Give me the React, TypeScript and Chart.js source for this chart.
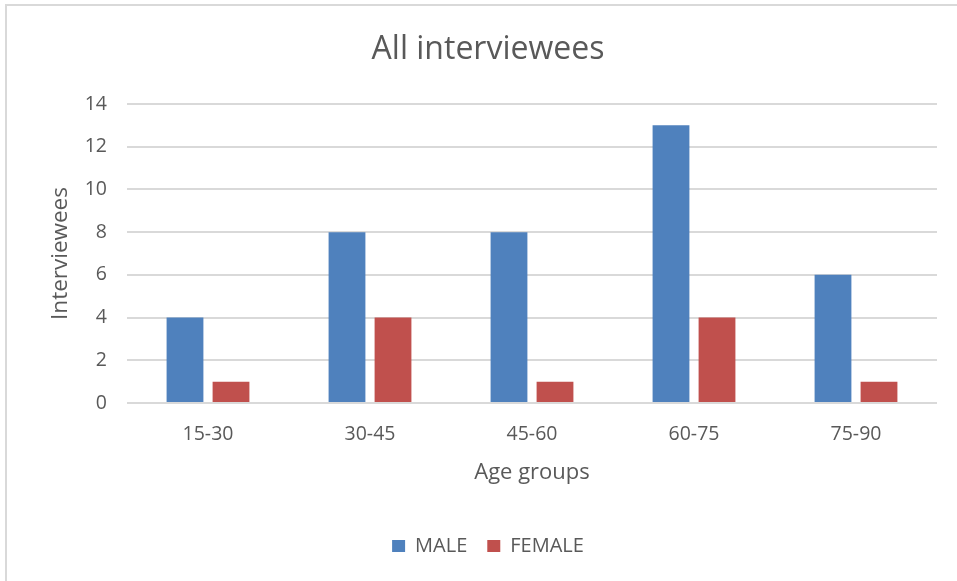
import React, { useEffect, useRef } from "react";
import { Chart, registerables } from "chart.js";

Chart.register(...registerables);

const categories = ["15-30", "30-45", "45-60", "60-75", "75-90"];
const maleValues = [4, 8, 8, 13, 6];
const femaleValues = [1, 4, 1, 4, 1];
const seriesNames = ["MALE", "FEMALE"];
const chartTitle = "All interviewees";
const xTitle = "Age groups";
const yTitle = "Interviewees";

const FONT = "'Open Sans', 'Noto Sans', sans-serif";
const TEXT = "#595959";

export default function App() {
  const ref = useRef<HTMLCanvasElement | null>(null);

  useEffect(() => {
    if (!ref.current) return;
    const chart = new Chart(ref.current, {
      type: "bar",
      data: {
        labels: categories,
        datasets: [
          {
            label: seriesNames[0],
            data: maleValues,
            backgroundColor: "#4f81bd",
            categoryPercentage: 0.568,
            barPercentage: 0.8,
          },
          {
            label: seriesNames[1],
            data: femaleValues,
            backgroundColor: "#c0504d",
            categoryPercentage: 0.568,
            barPercentage: 0.8,
          },
        ],
      },
      options: {
        animation: false,
        responsive: false,
        devicePixelRatio: 1,
        layout: { padding: { left: 39, right: 20, top: 0, bottom: 15 } },
        plugins: {
          title: {
            display: true,
            text: chartTitle,
            color: TEXT,
            font: { family: FONT, size: 32, weight: "normal" },
            padding: { top: 31, bottom: 34.6 },
          },
          legend: {
            display: true,
            position: "bottom",
            labels: {
              color: TEXT,
              font: { family: FONT, size: 20 },
              boxWidth: 13,
              boxHeight: 12,
              padding: 20,
            },
          },
          tooltip: { enabled: false },
        },
        scales: {
          x: {
            grid: { display: false, drawTicks: false },
            border: { display: false },
            ticks: {
              color: TEXT,
              font: { family: FONT, size: 19.5 },
              padding: 20,
              maxRotation: 0,
            },
            title: {
              display: true,
              text: xTitle,
              color: TEXT,
              font: { family: FONT, size: 22 },
              padding: { top: 0, bottom: 30 },
            },
            afterFit: (s: any) => {
              s.height = 113;
            },
          },
          y: {
            min: 0,
            max: 14,
            ticks: {
              stepSize: 2,
              color: TEXT,
              font: { family: FONT, size: 19.5 },
              padding: 20,
            },
            grid: { color: "#d9d9d9", lineWidth: 2, drawTicks: false },
            border: { display: false },
            title: {
              display: true,
              text: yTitle,
              color: TEXT,
              font: { family: FONT, size: 22.5 },
              padding: { top: 8, bottom: 0 },
            },
            afterFit: (s: any) => {
              s.width = 88;
            },
          },
        },
      },
    });
    return () => chart.destroy();
  }, []);

  return (
    <div style={{ position: "absolute", left: 0, top: 0, width: 957, height: 581, background: "#fff" }}>
      <div
        style={{
          position: "absolute",
          left: 5,
          top: 4,
          right: 0,
          bottom: 0,
          borderTop: "2px solid #d9d9d9",
          borderLeft: "2px solid #d9d9d9",
        }}
      />
      <canvas ref={ref} width={957} height={581} style={{ position: "absolute", left: 0, top: 0 }} />
    </div>
  );
}
